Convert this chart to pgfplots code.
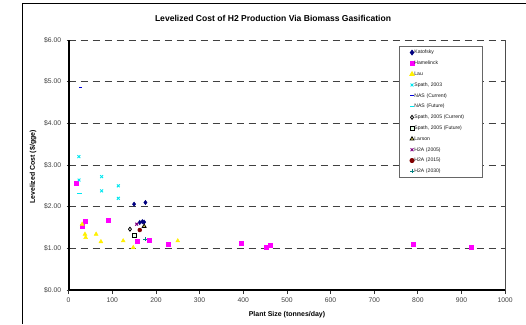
\documentclass[border=0pt]{standalone}
\usepackage{pgfplots}
\pgfplotsset{compat=1.18}
\usepackage{fontspec}
\setmainfont{Liberation Sans}
\definecolor{cnavy}{RGB}{0,0,128}
\definecolor{cmag}{RGB}{255,0,255}
\definecolor{cyel}{RGB}{255,240,0}
\definecolor{ccyan}{RGB}{0,230,240}
\definecolor{cblue}{RGB}{0,0,220}
\definecolor{cpurp}{RGB}{128,0,128}
\definecolor{cdred}{RGB}{128,0,0}
\definecolor{cteal}{RGB}{0,128,128}
\begin{document}
\begin{tikzpicture}[x=1bp,y=1bp]
\path[use as bounding box] (0,0) rectangle (526,324);
\draw[line width=1.2bp,black] (22.7,0) -- (22.7,320.7) -- (530,320.7);
\node[font=\bfseries\fontsize{8.6}{10}\selectfont] at (273,306) {Levelized Cost of H2 Production Via Biomass Gasification};
\node[font=\bfseries\fontsize{7}{8}\selectfont,rotate=90] at (33,157) {Levelized Cost (\$/gge)};
\node[font=\bfseries\fontsize{7}{8}\selectfont] at (287,9) {Plant Size (tonnes/day)};
\begin{axis}[
  at={(68.6bp,34bp)}, anchor=south west,
  scale only axis, width=436.6bp, height=250bp,
  xmin=0, xmax=1000, ymin=0, ymax=6,
  axis x line*=bottom, axis y line*=left,
  axis line style={-},
  x axis line style={line width=1.2bp},
  y axis line style={line width=2bp},
  xtick={0,100,...,1000},
  xticklabels={0,100,200,300,400,500,600,700,800,900,1000},
  ytick={0,1,2,3,4,5,6},
  yticklabels={\$0.00,\$1.00,\$2.00,\$3.00,\$4.00,\$5.00,\$6.00},
  xtick align=outside, ytick align=center,
  major tick length=4bp,
  tick style={black!80, line width=0.8bp},
  ticklabel style={font=\fontsize{6.8}{8}\selectfont, text=black!75},
  yticklabel style={xshift=-2bp},
  ymajorgrids,
  grid style={black!75, line width=0.9bp, dash pattern=on 7bp off 5bp},
  clip=false,
  legend cell align=left,
  legend style={at={(0.757,0.976)}, anchor=north west,
    draw=black!60, line width=1bp,
    inner xsep=10bp, inner ysep=3.6bp, row sep=5.9bp,
    nodes={inner sep=0pt, text height=3.8bp, text depth=1.1bp, text width=58bp,
      font=\fontsize{5.1}{6}\selectfont, text=black!90},
    /tikz/every even column/.append style={column sep=1bp}},
  legend image code/.code={\draw[mark repeat=2,mark phase=2,#1] plot coordinates {(0bp,0bp) (3bp,0bp) (6bp,0bp)};},
]
\draw[black!70, line width=0.8bp] (rel axis cs:1,0) -- (rel axis cs:1,1);
% Katofsky
\addplot[only marks, mark=diamond*, mark size=2.2bp, color=cnavy] coordinates {
(150,2.06) (176,2.10) (163,1.62) (169,1.64) (173,1.63)};
\addlegendentry{Katofsky}
% Hamelinck
\addplot[only marks, mark=square*, mark size=2bp, color=cmag] coordinates {
(17.6,2.57) (37.5,1.66) (31,1.52) (90,1.68) (158,1.18) (184,1.19) (227,1.09)
(394.5,1.13) (453,1.02) (461,1.08) (789,1.09) (921,1.02)};
\addlegendentry{Hamelinck}
% Lau
\addplot[only marks, mark=triangle*, mark size=2.3bp, color=cyel] coordinates {
(31,1.58) (37.5,1.34) (39,1.26) (63,1.34) (74,1.16) (125,1.18) (148,1.02) (250,1.18)};
\addlegendentry{Lau}
% Spath 2003
\addplot[only marks, mark=x, mark size=2bp, color=ccyan, mark options={line width=0.9bp}] coordinates {
(23.6,3.20) (24,2.64) (75.7,2.72) (75.7,2.38) (113.8,2.50) (113.8,2.20)};
\addlegendentry{Spath, 2003}
% NAS current
\addplot[only marks, mark=-, mark size=1.6bp, color=cblue, mark options={line width=0.9bp}] coordinates {
(26.8,4.86)};
\addlegendentry{NAS (Current)}
% NAS future
\addplot[only marks, mark=-, mark size=2.4bp, color=ccyan, mark options={line width=1bp}] coordinates {
(24.5,2.31)};
\addlegendentry{NAS (Future)}
% Spath 2005 current
\addplot[only marks, mark=diamond, mark size=2bp, color=black, mark options={line width=0.8bp}] coordinates {
(140.6,1.46)};
\addlegendentry{Spath, 2005 (Current)}
% Spath 2005 future
\addplot[only marks, mark=square*, mark size=1.9bp, mark options={draw=black, fill=green!10!white, line width=0.8bp}] coordinates {
(151,1.32)};
\addlegendentry{Spath, 2005 (Future)}
% Larson
\addplot[only marks, mark=triangle*, mark size=2.2bp, mark options={draw=black, fill=yellow!60!white, line width=0.8bp}] coordinates {
(173,1.53)};
\addlegendentry{Larson}
% H2A 2005
\addplot[only marks, mark=x, mark size=2bp, color=cpurp, mark options={line width=1bp}] coordinates {
(156,1.58)};
\addlegendentry{H2A (2005)}
% H2A 2015
\addplot[only marks, mark=*, mark size=2bp, color=cdred] coordinates {
(163,1.44)};
\addlegendentry{H2A (2015)}
% H2A 2030
\addplot[only marks, mark=+, mark size=2bp, color=cteal, mark options={line width=0.9bp}] coordinates {
(176,1.22)};
\addlegendentry{H2A (2030)}
\end{axis}
\end{tikzpicture}
\end{document}
